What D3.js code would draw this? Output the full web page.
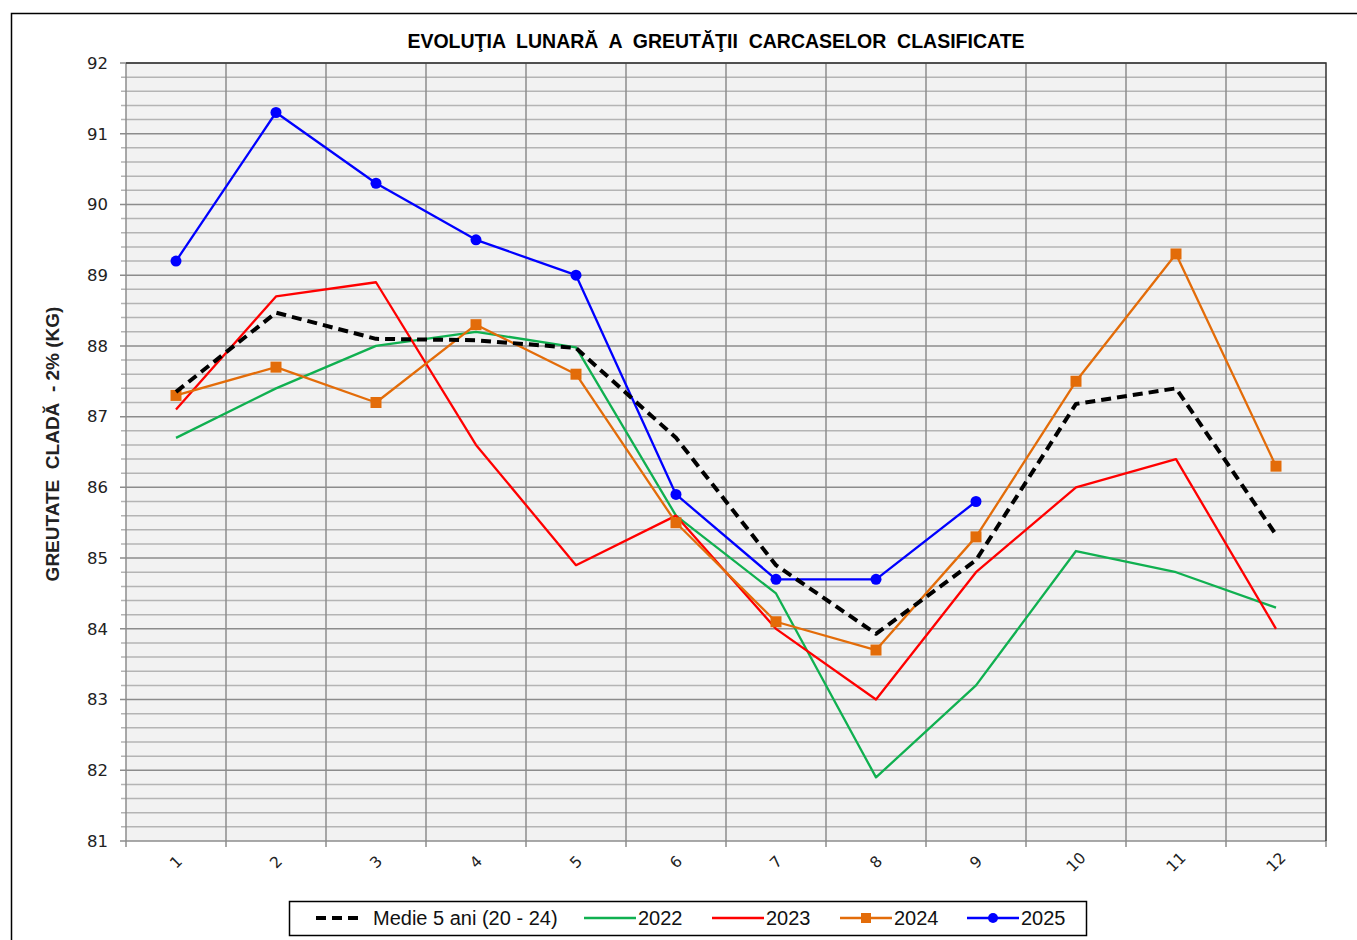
<!DOCTYPE html>
<meta charset="utf-8">
<style>
  body { margin: 0; background: #fff; }
  text { font-family: "Liberation Sans", Arial, sans-serif; }
  text.tick { font-family: "DejaVu Sans", sans-serif; fill: #222; }
</style>
<body>
<script src="https://d3js.org/d3.v7.min.js"></script>
<script>

var months = ["1", "2", "3", "4", "5", "6", "7", "8", "9", "10", "11", "12"];

var medie = [87.35, 88.47, 88.1, 88.08, 87.97, 86.7, 84.9, 83.93, 84.97, 87.18, 87.4, 85.33];
var y2022 = [86.7, 87.4, 88.0, 88.2, 87.98, 85.6, 84.5, 81.9, 83.2, 85.1, 84.8, 84.3];
var y2023 = [87.1, 88.7, 88.9, 86.6, 84.9, 85.6, 84.0, 83.0, 84.8, 86.0, 86.4, 84.0];
var y2024 = [87.3, 87.7, 87.2, 88.3, 87.6, 85.5, 84.1, 83.7, 85.3, 87.5, 89.3, 86.3];
var y2025 = [89.2, 91.3, 90.3, 89.5, 89.0, 85.9, 84.7, 84.7, 85.8];

var series = [
  {name: "Medie 5 ani (20 - 24)", values: medie, color: "#000", dash: "10,6", width: 4, marker: null},
  {name: "2022", values: y2022, color: "#10b050", dash: null, width: 2.3, marker: null},
  {name: "2023", values: y2023, color: "#ff0000", dash: null, width: 2.3, marker: null},
  {name: "2024", values: y2024, color: "#e36c09", dash: null, width: 2.3, marker: "square"},
  {name: "2025", values: y2025, color: "#0000ff", dash: null, width: 2.3, marker: "circle"}
];

var width = 1357, height = 940;
var margin = {left: 126, right: 31, top: 63, bottom: 99};

var svg = d3.select("body").append("svg")
    .attr("width", width)
    .attr("height", height);

// outer frame
svg.append("rect")
    .attr("x", 11.5).attr("y", 13.5)
    .attr("width", width).attr("height", height)
    .attr("fill", "none").attr("stroke", "#000").attr("stroke-width", 1.5);

var x = d3.scaleBand().domain(months).range([margin.left, width - margin.right]);
var y = d3.scaleLinear().domain([81, 92]).range([height - margin.bottom, margin.top]);

var x0 = margin.left, x1 = width - margin.right;
var yTop = margin.top, yBot = height - margin.bottom;

svg.append("rect")
    .attr("x", x0).attr("y", yTop)
    .attr("width", x1 - x0).attr("height", yBot - yTop)
    .attr("fill", "#f2f2f2");

// minor horizontal grid (0.2 steps)
var minor = d3.range(81, 92.001, 0.2).filter(function(v) { return Math.abs(v - Math.round(v)) > 0.01; });
svg.append("g").selectAll("line")
  .data(minor)
  .enter().append("line")
    .attr("x1", x0 - 5).attr("x2", x1)
    .attr("y1", function(d) { return y(d); })
    .attr("y2", function(d) { return y(d); })
    .attr("stroke", "#b4b4b4").attr("stroke-width", 1.5);

// major horizontal grid
svg.append("g").selectAll("line")
  .data(d3.range(81, 93))
  .enter().append("line")
    .attr("x1", x0 - 6).attr("x2", x1)
    .attr("y1", function(d) { return y(d); })
    .attr("y2", function(d) { return y(d); })
    .attr("stroke", "#8c8c8c").attr("stroke-width", 1.5);

// vertical grid at band edges
svg.append("g").selectAll("line")
  .data(months)
  .enter().append("line")
    .attr("x1", function(d) { return x(d); })
    .attr("x2", function(d) { return x(d); })
    .attr("y1", yTop).attr("y2", yBot + 6)
    .attr("stroke", "#8c8c8c").attr("stroke-width", 1.5);

svg.append("line")
    .attr("x1", x1).attr("x2", x1).attr("y1", yBot).attr("y2", yBot + 6)
    .attr("stroke", "#8c8c8c").attr("stroke-width", 1.5);

// top and right border
svg.append("path")
    .attr("d", "M" + x0 + "," + yTop + "H" + x1 + "V" + yBot)
    .attr("fill", "none").attr("stroke", "#333").attr("stroke-width", 1.5);

// y tick labels
svg.append("g").selectAll("text")
  .data(d3.range(81, 93))
  .enter().append("text")
    .attr("class", "tick")
    .attr("x", x0 - 18)
    .attr("y", function(d) { return y(d); })
    .attr("dy", "0.35em")
    .attr("text-anchor", "end")
    .style("font-size", "16.5px")
    .text(function(d) { return d; });

// x tick labels, rotated
svg.append("g").selectAll("text")
  .data(months)
  .enter().append("text")
    .attr("class", "tick")
    .attr("transform", function(d) {
      return "translate(" + (x(d) + x.bandwidth() / 2) + "," + (yBot + 21) + ") rotate(-45)";
    })
    .attr("text-anchor", "middle")
    .attr("dy", "0.35em")
    .style("font-size", "15.5px")
    .text(function(d) { return d; });

// title
svg.append("text")
    .attr("x", 716).attr("y", 48)
    .attr("text-anchor", "middle")
    .style("font-size", "19.5px")
    .style("font-weight", "bold")
    .style("white-space", "pre")
    .text("EVOLUŢIA  LUNARĂ  A  GREUTĂŢII  CARCASELOR  CLASIFICATE");

// y axis title
svg.append("text")
    .attr("transform", "translate(59,444) rotate(-90)")
    .attr("text-anchor", "middle")
    .style("font-size", "19px")
    .style("font-weight", "bold")
    .style("fill", "#222")
    .style("white-space", "pre")
    .text("GREUTATE  CLADĂ  - 2% (KG)");

var line = d3.line()
    .x(function(d, i) { return x(months[i]) + x.bandwidth() / 2; })
    .y(function(d) { return y(d); });

var order = [1, 2, 3, 4, 0];
order.forEach(function(k) {
  var s = series[k];
  var g = svg.append("g");
  g.append("path")
      .attr("d", line(s.values))
      .attr("fill", "none")
      .attr("stroke", s.color)
      .attr("stroke-width", s.width)
      .attr("stroke-dasharray", s.dash)
      .attr("stroke-linejoin", "round");
  if (s.marker === "square") {
    g.selectAll("rect").data(s.values).enter().append("rect")
        .attr("x", function(d, i) { return x(months[i]) + x.bandwidth() / 2 - 5.5; })
        .attr("y", function(d) { return y(d) - 5.5; })
        .attr("width", 11).attr("height", 11)
        .attr("fill", s.color);
  } else if (s.marker === "circle") {
    g.selectAll("circle").data(s.values).enter().append("circle")
        .attr("cx", function(d, i) { return x(months[i]) + x.bandwidth() / 2; })
        .attr("cy", function(d) { return y(d); })
        .attr("r", 5.5)
        .attr("fill", s.color);
  }
});

// legend
var legend = svg.append("g");
legend.append("rect")
    .attr("x", 289.5).attr("y", 901.5)
    .attr("width", 797).attr("height", 34)
    .attr("fill", "#fff").attr("stroke", "#000").attr("stroke-width", 1.5);

var legendX = [316, 584, 712, 840, 967];
series.forEach(function(s, i) {
  var lx = legendX[i], ly = 918;
  var lw = i === 0 ? 48 : 52;
  legend.append("line")
      .attr("x1", lx).attr("x2", lx + lw)
      .attr("y1", ly).attr("y2", ly)
      .attr("stroke", s.color)
      .attr("stroke-width", i === 0 ? 4 : 2.3)
      .attr("stroke-dasharray", i === 0 ? "10,6" : null);
  if (s.marker === "square") {
    legend.append("rect").attr("x", lx + lw / 2 - 5).attr("y", ly - 5)
        .attr("width", 10).attr("height", 10).attr("fill", s.color);
  } else if (s.marker === "circle") {
    legend.append("circle").attr("cx", lx + lw / 2).attr("cy", ly).attr("r", 5).attr("fill", s.color);
  }
  legend.append("text")
      .attr("x", lx + lw + (i === 0 ? 9 : 2))
      .attr("y", ly)
      .attr("dy", "0.35em")
      .style("font-size", "20px")
      .style("fill", "#111")
      .text(s.name);
});

</script>
